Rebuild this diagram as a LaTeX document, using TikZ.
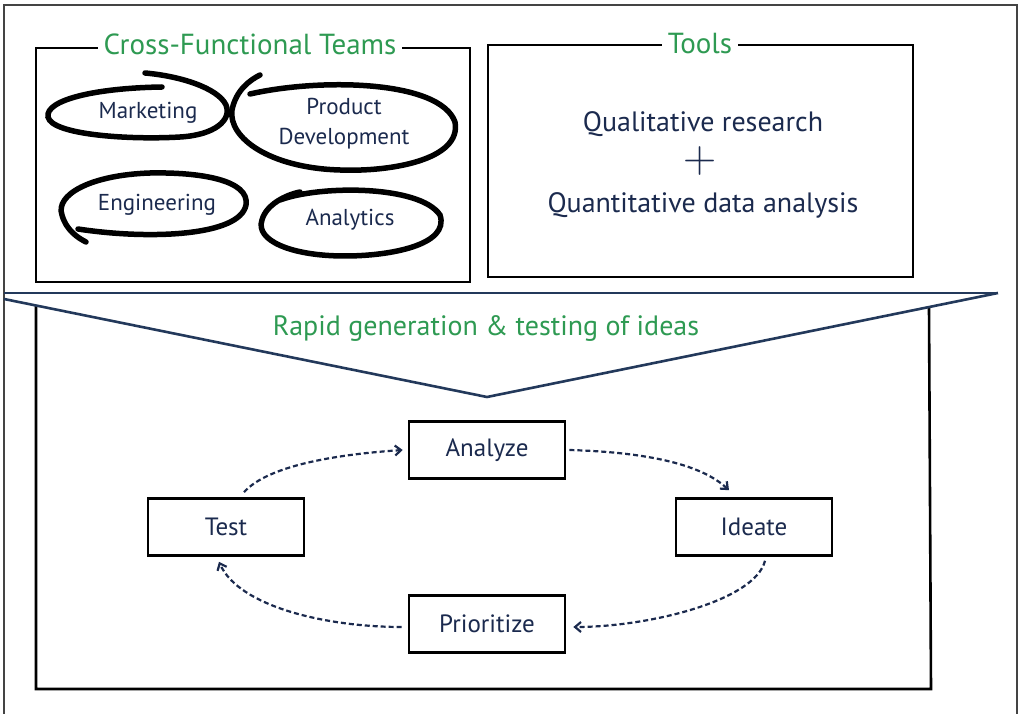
\documentclass[tikz,border=0pt]{standalone}
\usepackage{fontspec}
\setmainfont{PT Sans}
\newfontfamily\lmfont{Latin Modern Roman}
\usetikzlibrary{arrows.meta}
\definecolor{navy}{HTML}{1B2A4E}
\definecolor{fgreen}{HTML}{2E9A52}
\definecolor{funnel}{HTML}{23395B}
\definecolor{frame}{HTML}{444444}
\tikzset{
  handbox/.style={draw=black, line width=2.6pt},
  oval/.style={draw=black, line width=5.5pt, line cap=round},
  title/.style={text=fgreen, fill=white, inner xsep=6pt, inner ysep=2pt, font=\fontsize{29}{32}\selectfont},
  teamtxt/.style={text=navy, font=\fontsize{23}{26}\selectfont, align=center},
  tooltxt/.style={text=navy, font=\fontsize{28}{32}\selectfont},
  stepbox/.style={draw=black, line width=2.6pt, fill=white, minimum width=156pt, minimum height=57pt, text=navy, font=\fontsize{25}{28}\selectfont},
  flow/.style={draw=navy, line width=2.2pt, dashed, dash pattern=on 5pt off 3pt, -{Straight Barb[length=6pt,width=10pt,line width=2.2pt]}},
}
\begin{document}
\begin{tikzpicture}[x=1pt, y=-1pt]
\useasboundingbox (0,0) rectangle (1021,714);
\fill[white] (0,0) rectangle (1021,714);
% outer frame
\draw[frame, line width=1.3pt] (4,714) -- (4,5) -- (1017,5) -- (1017,714);

% Cross-functional teams box
\draw[handbox] (36,48) -- (470,48) -- (470,282) -- (36,282) -- cycle;
\node[title] (cft) at (250,44) {Cross-Functional Teams};

% Tools box
\draw[handbox] (488,45) -- (913,45) -- (913,277) -- (488,277) -- cycle;
\node[title] (tools) at (700,44) {Tools};
\node[tooltxt] (qual) at (703,124) {Qualitative research};
\node[text=navy, font=\lmfont\fontsize{46}{46}\selectfont] (plus) at (700,161) {+};
\node[tooltxt] (quant) at (703,205) {Quantitative data analysis};

% ovals
\draw[oval] (162,87) .. controls (95,88) and (45,100) .. (48,117)
  .. controls (52,135) and (130,140) .. (180,137)
  .. controls (215,135) and (232,120) .. (226,105)
  .. controls (218,88) and (180,76) .. (145,73);
\draw[oval] (250,94) .. controls (320,78) and (440,80) .. (455,122)
  .. controls (462,160) and (390,172) .. (340,170)
  .. controls (270,168) and (228,138) .. (232,110)
  .. controls (236,90) and (250,80) .. (260,75);
\draw[oval] (78,229) .. controls (150,240) and (240,236) .. (246,205)
  .. controls (250,180) and (200,172) .. (150,173)
  .. controls (90,175) and (55,195) .. (62,215)
  .. controls (66,230) and (78,238) .. (86,242);
\draw[oval] (280,200) .. controls (320,185) and (420,185) .. (440,215)
  .. controls (450,245) and (390,256) .. (345,256)
  .. controls (290,256) and (255,240) .. (262,220)
  .. controls (266,205) and (285,195) .. (300,192);

\node[teamtxt] (mkt) at (148,113) {Marketing};
\node[teamtxt] (pd) at (344,124) {Product\\[4pt]Development};
\node[teamtxt] (eng) at (157,205) {Engineering};
\node[teamtxt] (ana) at (350,220) {Analytics};

% lower box
\draw[handbox] (36,306) -- (36,689) -- (931,689) -- (929,307);
% funnel
\draw[funnel, line width=2.6pt] (4,293) -- (998,293);
\draw[funnel, line width=2.6pt, line join=miter] (4,299) -- (487,397) -- (998,293);
\node[text=fgreen, font=\fontsize{28}{30}\selectfont] (rapid) at (486,329) {Rapid generation \& testing of ideas};

% cycle
\node[stepbox] (analyze) at (487,450) {Analyze};
\node[stepbox] (test) at (226,527) {Test};
\node[stepbox] (ideate) at (754,527) {Ideate};
\node[stepbox] (prior) at (487,624) {Prioritize};

\draw[flow] ([shift={(18,-5)}]test.north) .. controls +(25,-28) and +(-60,4) .. ([xshift=-5pt]analyze.west);
\draw[flow] ([xshift=3pt]analyze.east) .. controls +(70,2) and +(-30,-28) .. ([shift={(-25,-7)}]ideate.north);
\draw[flow] ([shift={(11,4)}]ideate.south) .. controls +(-10,40) and +(75,0) .. ([shift={(7,3)}]prior.east);
\draw[flow] ([shift={(-6,3)}]prior.west) .. controls +(-75,0) and +(20,45) .. ([shift={(-7,5)}]test.south);
\end{tikzpicture}
\end{document}
